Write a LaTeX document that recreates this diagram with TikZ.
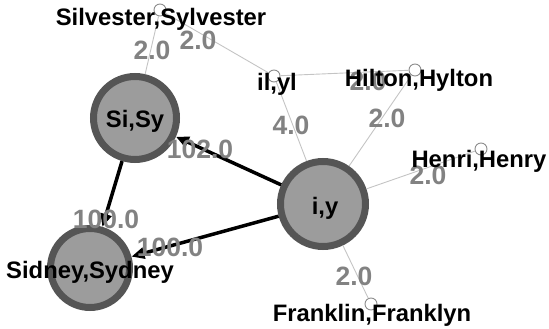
\documentclass[tikz,border=0pt]{standalone}
\usepackage{fontspec}
\setmainfont{Liberation Sans}
\usetikzlibrary{arrows.meta}
\definecolor{hubfill}{HTML}{9C9C9C}
\definecolor{hubrim}{HTML}{555555}
\definecolor{leafrim}{HTML}{8C8C8C}
\definecolor{edgegrey}{HTML}{C4C4C4}
\definecolor{weightgrey}{HTML}{828282}
\begin{document}
\begin{tikzpicture}[x=1pt,y=1pt,
  hub/.style={circle, draw=hubrim, fill=hubfill, line width=7pt, minimum size=#1, inner sep=0pt},
  leaf/.style={circle, draw=leafrim, fill=white, line width=0.9pt, minimum size=12pt, inner sep=0pt},
  nametext/.style={anchor=base, inner sep=0pt, font=\bfseries\fontsize{23.8}{28}\selectfont, text=black},
  wlabel/.style={inner sep=0pt, font=\bfseries\fontsize{26.5}{30}\selectfont, text=weightgrey},
  thinlink/.style={draw=edgegrey, line width=0.9pt},
  heavylink/.style={draw=black, line width=3.5pt, -{Triangle[length=13pt,width=11pt]}}
]
\useasboundingbox (0,0) rectangle (549,329);

% hubs
\node[hub=83pt] (sisy) at (135,211) {};
\node[hub=85pt] (iy) at (323,125) {};
\node[hub=79pt] (sidney) at (90,61) {};

% leaves
\node[leaf] (silv) at (160,319) {};
\node[leaf] (ilyl) at (274,253) {};
\node[leaf] (hilt) at (415,259) {};
\node[leaf] (henr) at (481,180) {};
\node[leaf] (fran) at (371,25) {};

% light links
\path[thinlink] (silv) -- (sisy);
\path[thinlink] (silv) -- (ilyl);
\path[thinlink] (ilyl) -- (hilt);
\path[thinlink] (ilyl) -- (iy);
\path[thinlink] (hilt) -- (iy);
\path[thinlink] (henr) -- (iy);
\path[thinlink] (fran) -- (iy);

% heavy directed links
\path[heavylink] (sisy) -- (sidney);
\path[heavylink] (iy) -- (sisy);
\path[heavylink] (iy) -- (sidney);

% link weights
\node[wlabel] (w1) at (152,279) {2.0};
\node[wlabel] (w2) at (198,289) {2.0};
\node[wlabel] (w3) at (368,248) {2.0};
\node[wlabel] (w4) at (291,204) {4.0};
\node[wlabel] (w5) at (387,211) {2.0};
\node[wlabel] (w6) at (428,154) {2.0};
\node[wlabel] (w7) at (354,53) {2.0};
\node[wlabel] (w8) at (200,180) {102.0};
\node[wlabel] (w9) at (106,110) {100.0};
\node[wlabel] (w10) at (170,82) {100.0};

% names
\node[nametext] (silvT) at (161,303) {Silvester,Sylvester};
\node[nametext] (ilylT) at (277,238) {il,yl};
\node[nametext] (hiltT) at (419,242) {Hilton,Hylton};
\node[nametext] (henrT) at (479,161) {Henri,Henry};
\node[nametext] (franT) at (372,7) {Franklin,Franklyn};
\node[nametext] (sisyT) at (135,201) {Si,Sy};
\node[nametext] (iyT) at (325,114) {i,y};
\node[nametext] (sidneyT) at (90,50) {Sidney,Sydney};
\end{tikzpicture}
\end{document}
